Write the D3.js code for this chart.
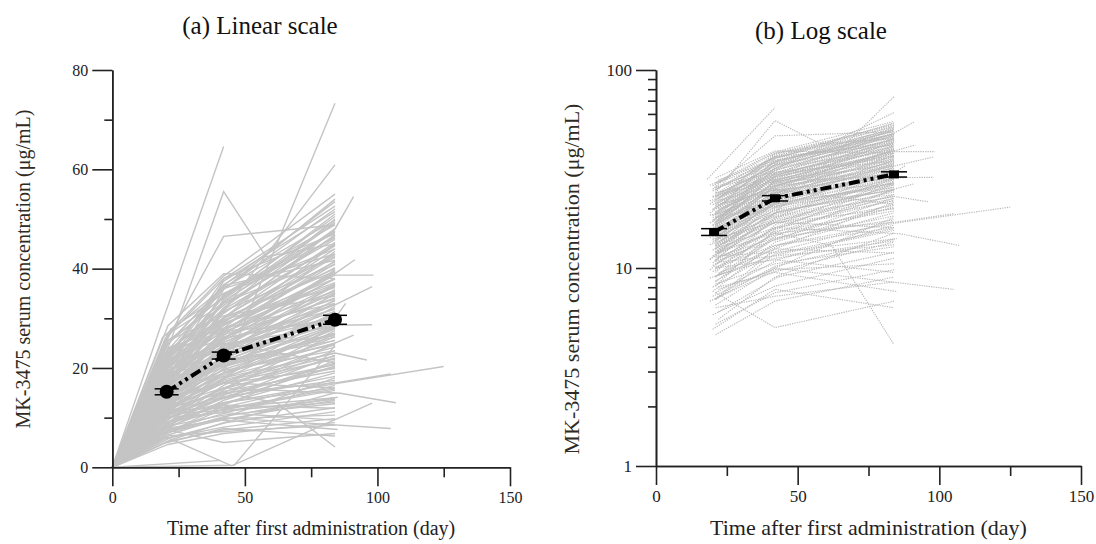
<!DOCTYPE html>
<html>
<head>
<meta charset="utf-8">
<script src="https://cdn.jsdelivr.net/npm/d3@7/dist/d3.min.js"></script>
<style>
  body { margin: 0; background: #fff; }
  text { font-family: "Liberation Serif", "Times New Roman", serif; }
</style>
</head>
<body>
<div class="chart"></div>
<script>
// individual subjects: day, conc, day, conc, ... (ug/mL)
var subjects = [
  [21, 5.2, 42, 7.5, 84, 9.8],
  [20, 5.8, 42, 8.1, 84, 11.2],
  [22, 6.0, 43, 9.0, 84, 12.0],
  [21, 6.3, 42, 7.2, 84, 8.5],
  [19, 6.8, 41, 9.5, 84, 13.5],
  [21, 7.0, 42, 10.2, 85, 14.1],
  [20, 7.2, 42, 10.0, 105, 7.8],
  [21, 7.5, 43, 11.0, 84, 16.5],
  [22, 7.8, 42, 9.8, 84, 10.5],
  [20, 8.0, 42, 12.1, 84, 17.2],
  [21, 8.3, 42, 10.5, 84, 12.8],
  [21, 8.6, 44, 13.2, 84, 19.0],
  [19, 8.9, 42, 11.6, 84, 15.5],
  [21, 9.1, 42, 14.0, 84, 21.0],
  [22, 9.4, 42, 12.5, 84, 11.9],
  [20, 9.6, 41, 13.8, 84, 18.3],
  [21, 9.9, 42, 15.1, 84, 23.5],
  [21, 10.1, 42, 13.0, 84, 16.0],
  [20, 10.3, 42, 14.7, 84, 20.1],
  [21, 10.5, 43, 16.2, 84, 24.8],
  [22, 10.7, 42, 11.5, 84, 13.1],
  [21, 10.9, 42, 15.8, 84, 22.0],
  [19, 11.1, 42, 17.0, 84, 26.3],
  [21, 11.3, 42, 14.2, 84, 17.5],
  [20, 11.5, 41, 16.8, 84, 21.8],
  [21, 11.7, 42, 18.5, 84, 27.9],
  [22, 11.9, 42, 15.3, 84, 19.4],
  [21, 12.1, 42, 17.6, 84, 23.0],
  [20, 12.3, 43, 19.2, 84, 28.5],
  [21, 12.5, 42, 16.0, 84, 20.7],
  [21, 12.7, 42, 18.9, 84, 25.6],
  [22, 12.9, 42, 20.4, 84, 31.2],
  [19, 13.1, 42, 17.3, 84, 22.4],
  [21, 13.3, 42, 19.7, 84, 26.8],
  [20, 13.5, 42, 21.3, 84, 30.5],
  [21, 13.7, 41, 18.1, 84, 24.2],
  [21, 13.9, 42, 20.9, 84, 28.1],
  [22, 14.1, 42, 22.5, 84, 33.0],
  [20, 14.3, 42, 19.0, 84, 25.0],
  [21, 14.5, 43, 21.7, 84, 29.3],
  [21, 14.7, 42, 23.4, 84, 34.8],
  [19, 14.9, 42, 20.2, 84, 27.0],
  [21, 15.1, 42, 22.0, 84, 30.9],
  [22, 15.3, 42, 24.6, 84, 36.5],
  [20, 15.5, 42, 21.0, 84, 26.2],
  [21, 15.7, 41, 23.1, 84, 32.0],
  [21, 15.9, 42, 25.5, 84, 38.1],
  [22, 16.1, 42, 22.2, 84, 28.9],
  [20, 16.3, 42, 24.0, 84, 33.5],
  [21, 16.5, 43, 26.3, 84, 39.6],
  [21, 16.7, 42, 23.0, 84, 29.8],
  [19, 16.9, 42, 25.1, 84, 35.2],
  [21, 17.1, 42, 27.4, 84, 41.0],
  [22, 17.3, 42, 23.8, 84, 31.4],
  [20, 17.5, 42, 26.0, 84, 36.7],
  [21, 17.7, 41, 28.2, 84, 42.5],
  [21, 17.9, 42, 24.5, 84, 30.2],
  [22, 18.1, 42, 27.0, 84, 37.9],
  [20, 18.3, 42, 29.1, 84, 44.0],
  [21, 18.5, 43, 25.4, 84, 32.8],
  [21, 18.8, 42, 27.8, 84, 39.0],
  [19, 19.0, 42, 30.0, 84, 45.3],
  [21, 19.3, 42, 26.2, 84, 34.1],
  [22, 19.5, 42, 28.6, 84, 40.2],
  [20, 19.8, 42, 31.0, 84, 46.8],
  [21, 20.0, 41, 27.1, 84, 35.5],
  [21, 20.3, 42, 29.5, 84, 41.4],
  [22, 20.6, 42, 32.1, 84, 48.0],
  [20, 20.9, 42, 28.0, 84, 36.9],
  [21, 21.2, 43, 30.6, 84, 43.0],
  [21, 21.5, 42, 33.2, 84, 49.2],
  [19, 21.8, 42, 29.0, 84, 38.0],
  [21, 22.1, 42, 31.8, 84, 44.6],
  [22, 22.4, 42, 34.3, 84, 50.5],
  [20, 22.8, 42, 30.1, 84, 39.5],
  [21, 23.2, 42, 33.0, 84, 45.9],
  [21, 23.6, 41, 35.5, 84, 52.0],
  [22, 24.0, 42, 31.5, 84, 40.8],
  [20, 24.5, 42, 34.5, 84, 47.3],
  [21, 25.0, 43, 37.0, 84, 53.5],
  [21, 25.6, 42, 33.1, 84, 42.2],
  [19, 26.2, 42, 36.2, 84, 48.8],
  [21, 27.0, 42, 38.5, 84, 55.0],
  [22, 27.8, 42, 35.0, 84, 44.0],
  [21, 28.5, 42, 39.0, 84, 38.0],
  [21, 13.0, 42, 25.0, 84, 21.0],
  [20, 18.0, 42, 20.5, 84, 27.0],
  [21, 9.5, 42, 18.0, 84, 31.0],
  [22, 22.0, 42, 26.0, 84, 30.0],
  [21, 16.0, 42, 30.0, 84, 40.0],
  [19, 11.0, 42, 22.0, 84, 35.0],
  [21, 24.0, 42, 28.0, 84, 33.0],
  [20, 14.0, 42, 17.0, 84, 16.0],
  [21, 7.0, 42, 12.5, 84, 21.5],
  [22, 19.0, 42, 24.0, 84, 26.5],
  [21, 12.0, 42, 23.0, 84, 37.0],
  [20, 26.0, 42, 38.0, 84, 47.0],
  [21, 10.0, 42, 11.0, 84, 9.5],
  [21, 17.0, 42, 32.0, 84, 50.0],
  [22, 15.0, 42, 19.5, 84, 23.5],
  [19, 21.0, 42, 36.0, 84, 43.0],
  [21, 8.5, 42, 14.5, 84, 25.0],
  [20, 23.0, 42, 27.5, 84, 29.0],
  [21, 13.5, 42, 28.0, 84, 45.0],
  [21, 6.5, 42, 10.0, 84, 18.0],
  [22, 20.0, 42, 37.5, 84, 51.5],
  [21, 11.5, 42, 12.0, 84, 14.0],
  [20, 16.5, 42, 33.5, 84, 47.5],
  [21, 25.5, 42, 30.5, 84, 34.5],
  [21, 9.0, 42, 16.5, 84, 27.5],
  [19, 18.5, 42, 21.5, 84, 25.5],
  [21, 14.0, 42, 26.5, 84, 43.5],
  [22, 5.5, 42, 9.0, 84, 15.0],
  [21, 4.6, 42, 6.8, 84, 9.0],
  [20, 4.9, 42, 7.8, 84, 6.3],
  [21, 14.8, 42, 27.5, 84, 41.5],
  [20, 19.6, 42, 34.8, 84, 46.2],
  [21, 22.6, 42, 36.8, 84, 49.8],
  [22, 17.6, 42, 31.2, 84, 44.8],
  [21, 12.4, 42, 24.3, 84, 35.8],
  [19, 15.4, 42, 29.3, 84, 42.8],
  [21, 20.7, 43, 35.2, 84, 47.6],
  [20, 10.6, 42, 20.0, 84, 32.4],
  [21, 16.8, 42, 28.9, 84, 37.2],
  [22, 23.8, 42, 32.6, 84, 46.5],
  [21, 8.1, 42, 15.6, 84, 26.9],
  [21, 18.2, 42, 26.7, 84, 33.9],
  [20, 13.8, 42, 23.7, 84, 39.8],
  [21, 21.9, 42, 37.9, 84, 52.6],
  [19, 9.8, 42, 17.8, 84, 28.2],
  [21, 24.8, 42, 36.6, 84, 41.7],
  [22, 11.8, 42, 21.6, 84, 33.7],
  [21, 15.8, 42, 20.6, 84, 24.6],
  [20, 7.6, 42, 13.5, 84, 20.4],
  [21, 26.8, 42, 34.0, 84, 51.0],
  [21, 12.9, 42, 16.9, 84, 19.9],
  [22, 19.9, 42, 25.8, 84, 31.8],
  [21, 6.9, 42, 11.8, 84, 15.8],
  [20, 17.2, 42, 33.8, 84, 49.5],
  [21, 22.9, 42, 29.7, 84, 36.2],
  [21, 10.8, 42, 13.9, 84, 22.6],
  [19, 14.2, 42, 25.9, 84, 39.3],
  [21, 20.8, 42, 24.8, 84, 28.4],
  [22, 9.2, 42, 11.2, 84, 13.7],
  [21, 16.2, 42, 35.8, 84, 54.0],
  [21, 9.0, 42, 13.0, 85, 16.9, 125, 20.3],
  [21, 11.0, 42, 16.0, 86, 14.9, 107, 13.0],
  [21, 17.0, 42, 27.0, 84, 38.7, 98.5, 38.7],
  [21, 15.0, 42, 24.0, 84, 32.7, 98, 36.4],
  [21, 14.0, 42, 21.0, 84, 28.6, 98, 28.7],
  [21, 10.0, 42, 15.0, 84, 17.0, 105, 18.8],
  [20, 6.2, 45, 0.3, 98, 12.9],
  [46, 0.4, 84, 24.5],
  [41, 1.4],
  [18, 28.0, 42, 64.6],
  [21, 24.0, 42, 55.5, 58, 42.4, 84, 45.0],
  [20, 25.0, 42, 46.5, 84, 48.8],
  [21, 13.0, 42, 19.0, 84, 73.3],
  [21, 19.0, 42, 31.5, 84, 60.9],
  [21, 19.0, 42, 30.0, 84, 48.0, 91, 54.5],
  [21, 16.0, 42, 26.0, 84, 39.0, 91.5, 41.8],
  [21, 13.0, 42, 22.0, 84, 30.0, 88, 33.0],
  [21, 12.0, 42, 18.0, 84, 23.0, 96, 21.6],
  [21, 11.0, 42, 19.0, 84, 25.0, 91, 26.6],
  [21, 12.0, 42, 15.0, 62, 13.0, 84, 4.1],
  [21, 7.5, 42, 5.0, 84, 6.8],
  [22, 8.0, 42, 9.5, 85, 7.6]
];

// mean +/- SE
var meanDays = [20.5, 42, 84];
var meanConc = [15.2, 22.5, 29.7];
var meanErr = [0.6, 0.7, 0.9];

var xTicks = [0, 50, 100, 150];
var xMinor = [25, 75, 125];
var linTicks = [0, 20, 40, 60, 80];
var linMinor = [10, 30, 50, 70];
var logTicks = [1, 10, 100];
var logMinor = [2, 3, 4, 5, 6, 7, 8, 9, 20, 30, 40, 50, 60, 70, 80, 90];

var titles = ["(a) Linear scale", "(b) Log scale"];
var xTitle = "Time after first administration (day)";
var yTitle = "MK-3475 serum concentration (\u03bcg/mL)";

var w = 1096;
var h = 544;

var svg = d3.select(".chart")
  .append("svg")
  .attr("width", w)
  .attr("height", h);

function toPoints(row) {
  var pts = [];
  for (var i = 0; i < row.length; i += 2) pts.push([row[i], row[i + 1]]);
  return pts;
}

function drawPanel(p) {
  var xScale = d3.scaleLinear().domain([0, 150]).range([p.left, p.right]);
  var yScale = p.log
    ? d3.scaleLog().domain([1, 100]).range([p.bottom, p.top])
    : d3.scaleLinear().domain([0, 80]).range([p.bottom, p.top]);

  var g = svg.append("g");

  var line = d3.line()
    .x(function(d) { return xScale(d[0]); })
    .y(function(d) { return yScale(d[1]); });
  if (p.log) line.defined(function(d) { return d[1] >= 1; });

  // individual profiles
  g.append("g")
    .selectAll("path")
    .data(subjects)
    .enter()
    .append("path")
    .attr("d", function(row) {
      var pts = toPoints(row);
      if (!p.log) pts.unshift([0, 0]);
      return line(pts);
    })
    .attr("fill", "none")
    .attr("stroke", p.log ? "#bababa" : "#c4c4c4")
    .attr("stroke-width", p.log ? 1.15 : 1.4)
    .attr("stroke-dasharray", p.log ? "1.3,1.1" : null);

  // axes
  var yMajor = d3.axisLeft(yScale)
    .tickValues(p.log ? logTicks : linTicks)
    .tickFormat(d3.format("d"))
    .tickSize(20)
    .tickSizeOuter(0)
    .tickPadding(4);
  var yMin = d3.axisLeft(yScale)
    .tickValues(p.log ? logMinor : linMinor)
    .tickFormat("")
    .tickSize(8)
    .tickSizeOuter(0);
  var xMajor = d3.axisBottom(xScale)
    .tickValues(xTicks)
    .tickSize(19)
    .tickSizeOuter(0)
    .tickPadding(5);
  var xMin = d3.axisBottom(xScale)
    .tickValues(xMinor)
    .tickFormat("")
    .tickSize(10)
    .tickSizeOuter(0);

  var axes = [
    g.append("g").attr("transform", "translate(" + p.left + ",0)").call(yMajor),
    g.append("g").attr("transform", "translate(" + p.left + ",0)").call(yMin),
    g.append("g").attr("transform", "translate(0," + p.bottom + ")").call(xMajor),
    g.append("g").attr("transform", "translate(0," + p.bottom + ")").call(xMin)
  ];
  axes.forEach(function(a) {
    a.selectAll("path, line").attr("stroke", "#222").attr("stroke-width", 1.6);
    a.selectAll("text")
      .attr("fill", "#222")
      .style("font-size", p.tickFont + "px")
      .style("font-family", '"Liberation Serif", serif');
  });

  // mean line
  var meanPts = meanDays.map(function(d, i) { return [d, meanConc[i]]; });
  g.append("path")
    .attr("d", line(meanPts))
    .attr("fill", "none")
    .attr("stroke", "#000")
    .attr("stroke-width", 4)
    .attr("stroke-dasharray", "11,4,3,4,3,4");

  var err = g.append("g")
    .selectAll("g")
    .data(meanPts)
    .enter()
    .append("g");

  err.append("line")
    .attr("x1", function(d) { return xScale(d[0]); })
    .attr("x2", function(d) { return xScale(d[0]); })
    .attr("y1", function(d, i) { return yScale(d[1] - meanErr[i]); })
    .attr("y2", function(d, i) { return yScale(d[1] + meanErr[i]); })
    .attr("stroke", "#000")
    .attr("stroke-width", 1.5);

  [-1, 1].forEach(function(s) {
    err.append("line")
      .attr("x1", function(d) { return xScale(d[0]) - p.cap; })
      .attr("x2", function(d) { return xScale(d[0]) + p.cap; })
      .attr("y1", function(d, i) { return yScale(d[1] + s * meanErr[i]); })
      .attr("y2", function(d, i) { return yScale(d[1] + s * meanErr[i]); })
      .attr("stroke", "#000")
      .attr("stroke-width", 1.5);
  });

  if (p.log) {
    err.append("rect")
      .attr("x", function(d) { return xScale(d[0]) - 5; })
      .attr("y", function(d) { return yScale(d[1]) - 4; })
      .attr("width", 10)
      .attr("height", 8)
      .attr("fill", "#000");
  } else {
    err.append("circle")
      .attr("cx", function(d) { return xScale(d[0]); })
      .attr("cy", function(d) { return yScale(d[1]); })
      .attr("r", 7)
      .attr("fill", "#000");
  }

  // titles
  g.append("text")
    .attr("x", p.titleX)
    .attr("y", p.titleY)
    .attr("text-anchor", "middle")
    .attr("fill", "#111")
    .style("font-size", "25px")
    .text(p.title);

  g.append("text")
    .attr("x", (p.left + p.right) / 2)
    .attr("y", 535)
    .attr("text-anchor", "middle")
    .attr("fill", "#222")
    .style("font-size", p.labelFont + "px")
    .text(xTitle);

  g.append("text")
    .attr("transform", "translate(" + p.yLabelX + "," + p.yLabelY + ") rotate(-90)")
    .attr("text-anchor", "middle")
    .attr("fill", "#2f2b22")
    .style("font-size", p.yLabelFont + "px")
    .text(yTitle);
}

drawPanel({
  log: false, left: 112.3, right: 510, top: 70, bottom: 467.3,
  title: titles[0], titleX: 260, titleY: 34,
  tickFont: 16, labelFont: 20, yLabelFont: 20, yLabelX: 30, yLabelY: 269, cap: 12
});

drawPanel({
  log: true, left: 656, right: 1081, top: 70, bottom: 466,
  title: titles[1], titleX: 821, titleY: 39,
  tickFont: 17, labelFont: 22, yLabelFont: 22, yLabelX: 579, yLabelY: 279, cap: 13
});
</script>
</body>
</html>
